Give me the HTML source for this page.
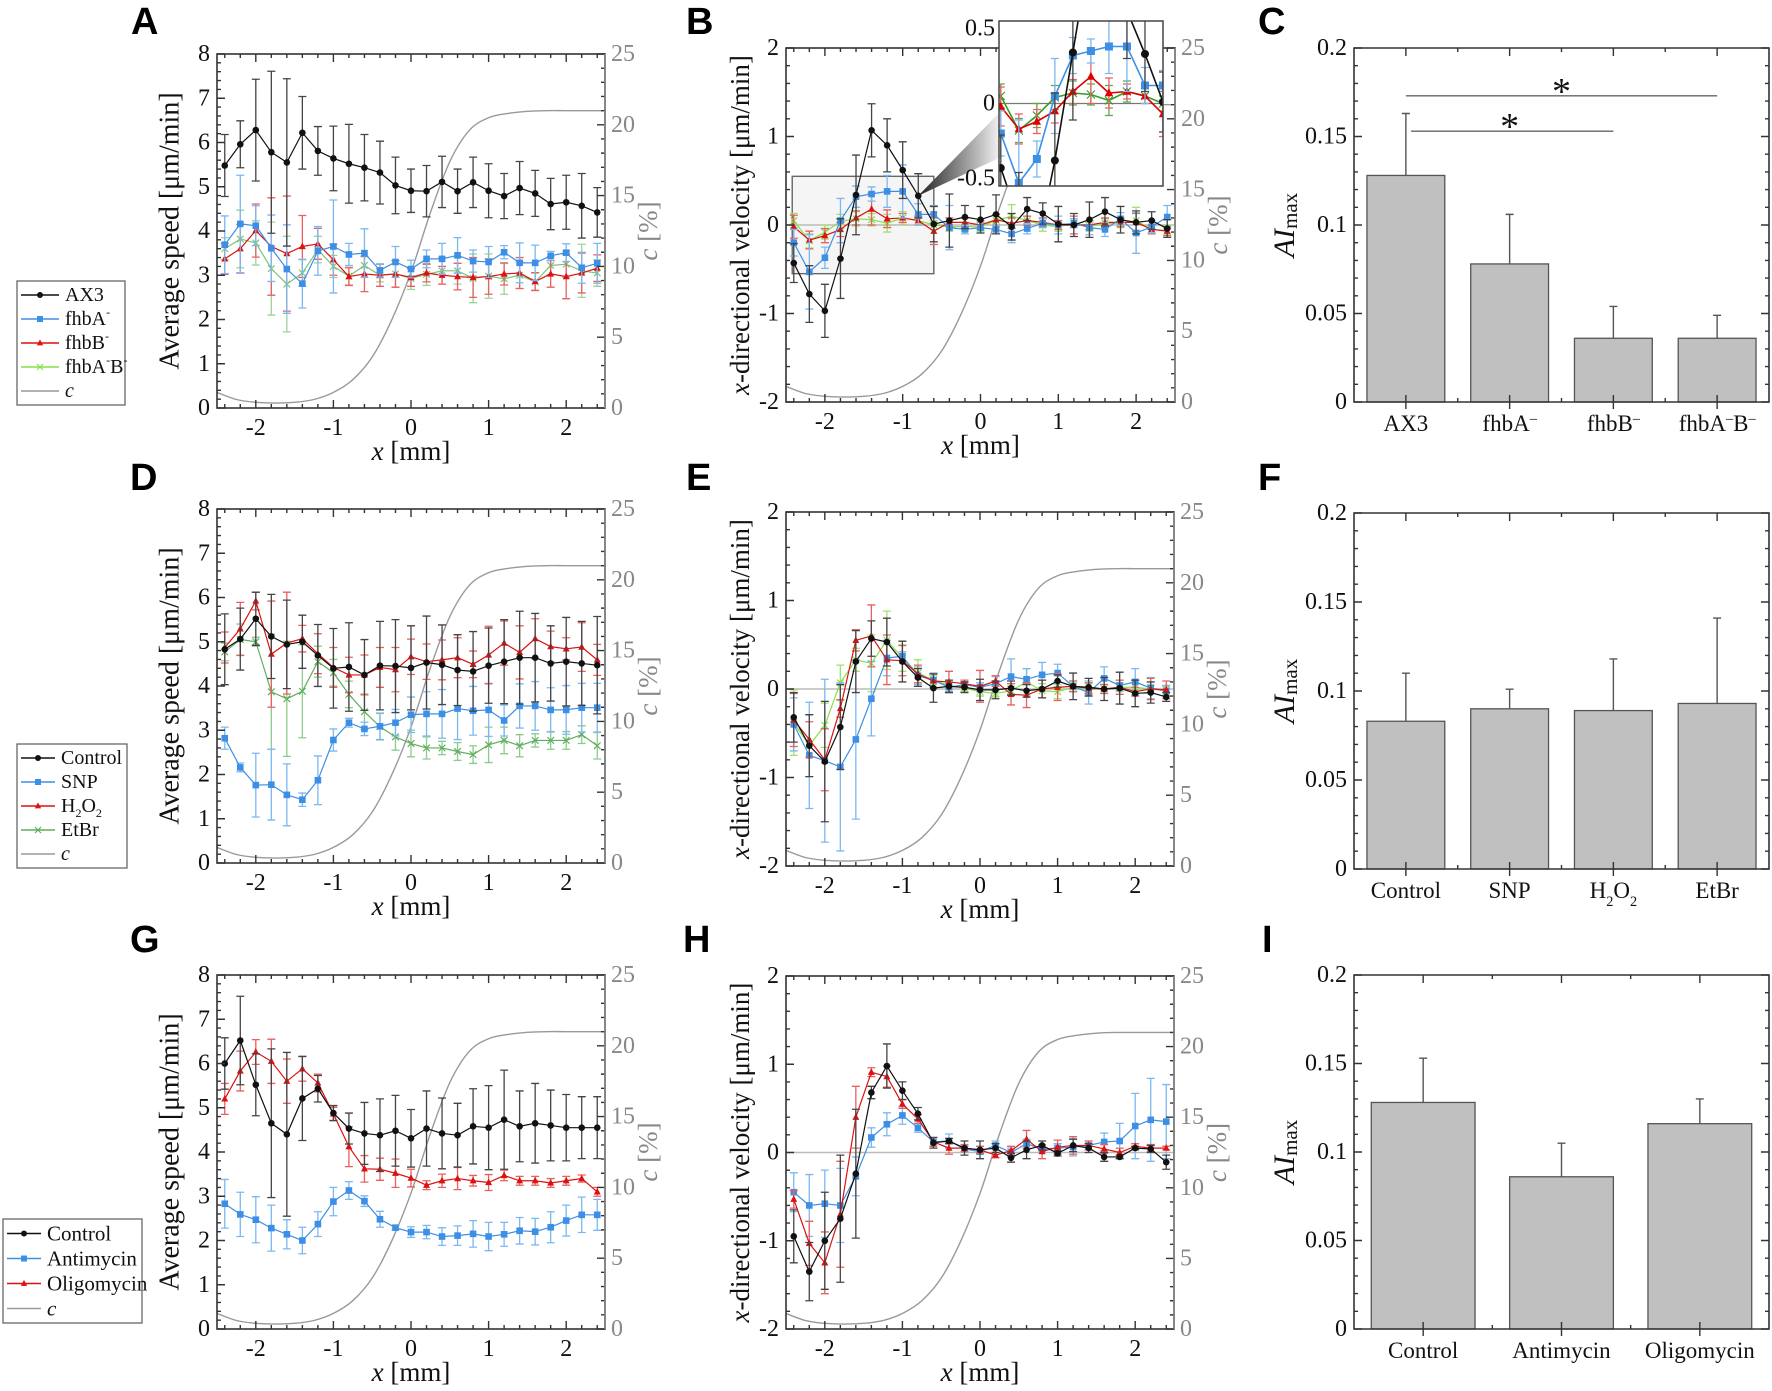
<!DOCTYPE html>
<html><head><meta charset="utf-8">
<style>
html,body{margin:0;padding:0;background:#fff;}
svg{display:block;}
svg text{font-family:"Liberation Serif","DejaVu Serif",serif;}
svg text.letter{font-family:"Liberation Sans",Arial,sans-serif;}
</style></head>
<body>
<svg id="fig" xmlns="http://www.w3.org/2000/svg" width="1772" height="1391" viewBox="0 0 1772 1391" font-family="Liberation Serif, serif">
<defs>
<linearGradient id="wedgeGrad" x1="0" y1="0" x2="1" y2="0">
<stop offset="0" stop-color="#222"/><stop offset="1" stop-color="#f0f0f0"/>
</linearGradient>
</defs>
</svg>
<script>
// ---------- shared x positions and c profile ----------
const xPos = [-2.4,-2.2,-2.0,-1.8,-1.6,-1.4,-1.2,-1.0,-0.8,-0.6,-0.4,-0.2,0,0.2,0.4,0.6,0.8,1.0,1.2,1.4,1.6,1.8,2.0,2.2,2.4];
const cX = [-2.5,-2.25,-2,-1.75,-1.5,-1.25,-1,-0.75,-0.5,-0.25,0,0.25,0.5,0.75,1,1.25,1.5,1.75,2,2.25,2.5];
const cVal = [1.1,0.6,0.4,0.35,0.4,0.6,1.1,2.0,3.6,6.2,9.6,13.8,17.4,19.6,20.5,20.8,20.95,21,21,21,21];

// ---------- Panel A ----------
const aAX3 = [5.48,5.96,6.28,5.78,5.55,6.22,5.81,5.64,5.52,5.43,5.32,5.03,4.91,4.90,5.11,4.90,5.10,4.91,4.79,4.97,4.85,4.61,4.65,4.57,4.42];
const aAX3Err = [0.7,0.53,1.15,1.83,1.89,0.82,0.55,0.73,0.89,0.75,0.71,0.64,0.49,0.58,0.58,0.5,0.57,0.61,0.51,0.6,0.52,0.58,0.61,0.73,0.56];
const aFhbA = [3.69,4.16,4.12,3.61,3.14,2.81,3.55,3.65,3.47,3.50,3.11,3.30,3.14,3.37,3.37,3.45,3.32,3.30,3.52,3.28,3.28,3.44,3.51,3.17,3.27];
const aFhbAErr = [0.65,1.1,0.45,0.75,1.0,0.55,0.55,1.05,0.25,0.55,0.15,0.35,0.2,0.2,0.35,0.4,0.25,0.35,0.15,0.45,0.4,0.1,0.2,0.35,0.45];
const aFhbB = [3.37,3.60,4.01,3.65,3.49,3.65,3.71,3.35,2.97,3.03,3.00,3.03,2.95,3.05,3.00,2.97,2.95,2.97,3.03,3.05,2.86,3.03,2.97,3.05,3.16];
const aFhbBErr = [0.35,0.55,0.6,1.1,1.3,0.7,0.35,0.35,0.2,0.4,0.25,0.3,0.2,0.2,0.2,0.3,0.45,0.4,0.25,0.35,0.2,0.3,0.5,0.45,0.3];
const aFhbAB = [3.6,3.82,3.73,3.15,2.8,3.05,3.58,3.2,2.98,3.22,3.0,3.03,2.93,3.02,3.1,3.1,2.93,2.98,2.92,3.0,2.85,3.22,3.25,3.1,3.05];
const aFhbABErr = [0.25,0.65,0.5,1.05,1.08,0.3,0.3,0.25,0.2,0.2,0.15,0.3,0.25,0.25,0.3,0.3,0.55,0.5,0.35,0.3,0.2,0.2,0.3,0.6,0.3];

// ---------- Panel B ----------
const bAX3 = [-0.43,-0.78,-0.97,-0.38,0.34,1.07,0.90,0.62,0.33,0.01,0.05,0.09,0.06,0.12,-0.02,0.18,0.13,0.01,0.0,0.06,0.15,0.06,0.03,0.05,-0.04];
const bAX3Err = [0.22,0.32,0.3,0.45,0.45,0.3,0.3,0.32,0.25,0.2,0.3,0.13,0.15,0.22,0.15,0.13,0.12,0.2,0.13,0.2,0.16,0.15,0.13,0.1,0.1];
const bFhbA = [-0.2,-0.53,-0.37,0.05,0.32,0.35,0.38,0.38,0.12,0.12,-0.03,-0.05,-0.03,-0.05,-0.1,-0.04,0.02,0.0,0.02,-0.03,-0.05,0.07,-0.09,-0.02,0.09];
const bFhbAErr = [0.15,0.42,0.12,0.25,0.12,0.08,0.18,0.3,0.12,0.1,0.25,0.05,0.06,0.05,0.1,0.06,0.05,0.1,0.05,0.08,0.08,0.07,0.23,0.07,0.13];
const bFhbB = [-0.02,-0.17,-0.12,-0.05,0.08,0.18,0.07,0.08,0.05,-0.07,0.03,0.03,0.0,0.06,0.02,0.05,0.03,0.0,0.0,0.0,0.03,0.03,0.03,-0.05,-0.07];
const bFhbBErr = [0.13,0.1,0.08,0.08,0.08,0.18,0.1,0.05,0.05,0.15,0.05,0.05,0.05,0.06,0.06,0.05,0.05,0.05,0.1,0.05,0.05,0.05,0.1,0.05,0.05];
const bFhbAB = [0.05,-0.18,-0.08,0.04,0.07,0.06,0.02,0.08,0.05,0.0,-0.02,-0.02,-0.02,0.05,0.1,0.05,0.0,-0.02,0.02,-0.02,0.02,0.02,0.05,-0.05,-0.06];
const bFhbABErr = [0.08,0.08,0.08,0.08,0.08,0.07,0.1,0.07,0.05,0.05,0.05,0.05,0.05,0.07,0.13,0.05,0.07,0.05,0.05,0.05,0.05,0.05,0.15,0.05,0.05];

// ---------- Panel C ----------
const cCats = ["AX3","fhbA-","fhbB-","fhbA-B-"];
const cBars = [0.128,0.078,0.036,0.036];
const cErrTop = [0.163,0.106,0.054,0.049];

// ---------- Panel D ----------
const dCtrl = [4.83,5.06,5.52,5.12,4.94,5.0,4.69,4.40,4.43,4.25,4.46,4.45,4.41,4.53,4.48,4.36,4.33,4.46,4.55,4.64,4.64,4.51,4.55,4.51,4.47];
const dCtrlErr = [0.8,0.7,0.6,0.95,1.0,0.6,0.7,0.9,1.0,0.8,1.0,1.05,0.95,1.05,0.9,0.8,0.9,0.85,0.95,1.05,1.0,0.85,1.0,0.95,1.1];
const dSNP = [2.82,2.16,1.76,1.77,1.54,1.43,1.87,2.78,3.17,3.03,3.09,3.17,3.35,3.37,3.37,3.49,3.44,3.46,3.22,3.55,3.55,3.46,3.46,3.51,3.51];
const dSNPErr = [0.25,0.1,0.72,0.8,0.7,0.15,0.55,0.25,0.1,0.15,0.3,0.3,0.4,0.5,0.55,0.7,0.55,0.6,0.35,0.5,0.55,0.5,0.55,0.55,0.55];
const dH2O2 = [4.87,5.29,5.92,4.72,4.97,5.07,4.73,4.42,4.25,4.25,4.42,4.37,4.66,4.55,4.59,4.64,4.49,4.70,4.97,4.76,5.07,4.89,4.84,4.88,4.59];
const dH2O2Err = [0.35,0.6,0.2,1.2,1.15,0.3,0.45,0.45,0.4,0.45,0.45,0.5,0.4,0.4,0.45,0.45,0.3,0.65,0.5,0.6,0.45,0.35,0.25,0.55,0.35];
const dEtBr = [4.77,5.05,5.0,3.87,3.71,3.88,4.55,4.3,3.81,3.42,3.08,2.85,2.7,2.6,2.6,2.52,2.45,2.67,2.77,2.65,2.77,2.77,2.77,2.9,2.65];
const dEtBrErr = [0.2,0.35,0.1,1.3,1.3,1.05,0.35,0.3,0.3,0.4,0.3,0.3,0.3,0.25,0.15,0.2,0.2,0.4,0.3,0.25,0.15,0.2,0.2,0.2,0.3];

// ---------- Panel E ----------
const eCtrl = [-0.32,-0.64,-0.82,-0.43,0.31,0.57,0.53,0.31,0.13,0.01,0.03,0.02,-0.01,-0.01,0.01,-0.02,0.0,0.09,0.03,0.02,0.0,0.01,-0.05,-0.04,-0.09];
const eCtrlErr = [0.28,0.35,0.68,0.48,0.35,0.2,0.27,0.23,0.1,0.16,0.07,0.06,0.12,0.1,0.08,0.07,0.1,0.07,0.15,0.1,0.13,0.18,0.15,0.12,0.05];
const eSNP = [-0.4,-0.75,-0.81,-0.88,-0.57,-0.11,0.35,0.37,0.15,0.1,0.02,0.05,0.02,0.06,0.14,0.11,0.16,0.18,0.03,-0.04,0.12,0.04,0.08,0.01,-0.02];
const eSNPErr = [0.3,0.6,0.92,0.95,0.9,0.42,0.2,0.05,0.1,0.08,0.05,0.03,0.05,0.08,0.2,0.12,0.14,0.1,0.06,0.13,0.13,0.06,0.15,0.12,0.06];
const eH2O2 = [-0.35,-0.57,-0.8,-0.22,0.55,0.6,0.33,0.32,0.17,0.09,0.08,0.06,0.03,0.09,-0.06,-0.07,0.0,0.02,0.03,0.01,0.0,0.02,-0.03,0.0,-0.01];
const eH2O2Err = [0.3,0.2,0.35,0.1,0.12,0.35,0.28,0.17,0.1,0.08,0.12,0.04,0.18,0.06,0.12,0.14,0.1,0.15,0.06,0.06,0.05,0.08,0.05,0.12,0.1];
const eEtBr = [-0.38,-0.64,-0.41,0.07,0.33,0.29,0.55,0.35,0.18,0.1,0.04,0.01,-0.03,-0.05,-0.02,0.08,-0.02,-0.03,0.02,0.0,0.0,0.02,0.02,0.0,-0.02];
const eEtBrErr = [0.37,0.35,0.25,0.2,0.13,0.32,0.33,0.15,0.15,0.05,0.05,0.04,0.05,0.04,0.05,0.15,0.08,0.08,0.05,0.06,0.05,0.05,0.05,0.05,0.05];

// ---------- Panel F ----------
const fCats = ["Control","SNP","H2O2","EtBr"];
const fBars = [0.083,0.090,0.089,0.093];
const fErrTop = [0.110,0.101,0.118,0.141];

// ---------- Panel G ----------
const gCtrl = [6.0,6.52,5.52,4.65,4.40,5.21,5.43,4.88,4.53,4.42,4.38,4.48,4.31,4.53,4.42,4.38,4.58,4.55,4.73,4.58,4.65,4.6,4.55,4.55,4.55];
const gCtrlErr = [0.58,1.0,0.7,1.68,1.85,0.95,0.3,0.17,0.35,0.7,0.82,0.8,0.65,0.85,0.8,0.72,0.85,0.95,1.12,0.8,0.9,0.8,0.75,0.7,0.7];
const gAnti = [2.83,2.59,2.47,2.28,2.14,2.0,2.37,2.88,3.13,2.89,2.48,2.29,2.19,2.19,2.09,2.11,2.15,2.09,2.14,2.22,2.2,2.3,2.45,2.58,2.58];
const gAntiErr = [0.55,0.5,0.52,0.52,0.33,0.3,0.28,0.32,0.2,0.12,0.18,0.05,0.12,0.15,0.2,0.22,0.3,0.32,0.27,0.3,0.3,0.35,0.35,0.4,0.35];
const gOligo = [5.2,5.83,6.26,6.05,5.6,5.88,5.56,4.86,4.12,3.62,3.61,3.52,3.41,3.25,3.35,3.4,3.35,3.31,3.47,3.35,3.35,3.3,3.35,3.4,3.1];
const gOligoErr = [0.35,0.45,0.28,0.5,0.5,0.28,0.2,0.15,0.45,0.3,0.25,0.32,0.2,0.1,0.15,0.25,0.12,0.18,0.12,0.1,0.1,0.1,0.1,0.08,0.1];

// ---------- Panel H ----------
const hCtrl = [-0.95,-1.35,-1.0,-0.75,-0.24,0.68,0.98,0.70,0.44,0.11,0.13,0.05,0.03,0.05,-0.06,0.03,0.08,-0.01,0.08,0.05,-0.05,-0.05,0.05,0.04,-0.11];
const hCtrlErr = [0.3,0.33,0.55,0.72,0.73,0.07,0.25,0.1,0.07,0.06,0.03,0.08,0.1,0.05,0.05,0.1,0.05,0.03,0.07,0.05,0.05,0.02,0.02,0.04,0.08];
const hAnti = [-0.45,-0.6,-0.58,-0.6,-0.27,0.17,0.32,0.42,0.28,0.12,0.13,0.04,0.01,0.08,0.0,0.1,0.04,0.05,0.06,0.08,0.12,0.13,0.3,0.37,0.35];
const hAntiErr = [0.22,0.35,0.38,0.42,0.22,0.11,0.13,0.1,0.05,0.05,0.08,0.03,0.03,0.05,0.05,0.05,0.04,0.05,0.1,0.05,0.1,0.2,0.37,0.47,0.42];
const hOligo = [-0.53,-1.03,-1.25,-0.7,0.4,0.91,0.86,0.55,0.38,0.12,0.05,0.05,0.03,-0.03,0.02,0.15,0.01,0.06,0.08,0.08,0.04,0.0,0.07,0.05,0.05];
const hOligoErr = [0.1,0.25,0.35,0.6,0.35,0.05,0.12,0.05,0.05,0.05,0.07,0.04,0.04,0.03,0.05,0.1,0.08,0.08,0.1,0.05,0.05,0.05,0.03,0.04,0.02];

// ---------- Panel I ----------
const iCats = ["Control","Antimycin","Oligomycin"];
const iBars = [0.128,0.086,0.116];
const iErrTop = [0.153,0.105,0.130];

// ================= drawing =================
const NS = "http://www.w3.org/2000/svg";
const svg = document.getElementById("fig");
function mk(tag, attrs, parent){
  const e = document.createElementNS(NS, tag);
  for (const k in attrs) e.setAttribute(k, attrs[k]);
  (parent || svg).appendChild(e);
  return e;
}
function lin(d0,d1,r0,r1){ return v => r0 + (v-d0)*(r1-r0)/(d1-d0); }
function fmt(v){ return (Math.round(v*1000)/1000).toString(); }

const AXC = "#333";

function labelSegs(t, name, size){
  let segs;
  if (name === "fhbA-") segs = [["fhbA",0],["\u2013",1]];
  else if (name === "fhbB-") segs = [["fhbB",0],["\u2013",1]];
  else if (name === "fhbA-B-") segs = [["fhbA",0],["\u2013",1],["B",0],["\u2013",1]];
  else if (name === "H2O2") segs = [["H",0],["2",-1],["O",0],["2",-1]];
  else segs = [[name,0]];
  for (const [s, k] of segs){
    const ts = mk("tspan", {}, t);
    ts.textContent = s;
    if (k === 1){ ts.setAttribute("font-size", size*0.62); ts.setAttribute("baseline-shift", "super"); }
    else if (k === -1){ ts.setAttribute("font-size", size*0.62); ts.setAttribute("baseline-shift", "sub"); }
  }
}

function drawLinePanel(opt){
  const g = mk("g", {});
  
  
  const {l,t,r,b} = opt.box;
  const xs = lin(-2.5, 2.5, l, r);
  const ys = lin(opt.yMin, opt.yMax, b, t);
  const cs = lin(0, 25, b, t);
  if (opt.zoomBox){
    const zb = opt.zoomBox;
    const rb = mk("rect", {x:xs(zb.x0), y:ys(zb.y1), width:xs(zb.x1)-xs(zb.x0), height:ys(zb.y0)-ys(zb.y1), fill:"#f5f5f5", stroke:"#666", "stroke-width":1.4}, g);
    
    
  }
  if (opt.zeroLine){
    const zl = mk("line", {x1:l, x2:r, y1:ys(0), y2:ys(0), stroke:"#bbb", "stroke-width":1.4}, g);
    
    
  }
  const cPath = mk("path", {d:smoothPath(cX.map(xs), cVal.map(cs)), fill:"none", stroke:"#999", "stroke-width":1.4}, g);
  
  
  for (const s of opt.series) drawSeries(g, s, xs, ys, 1.2, 3.3);
  const fr = mk("rect", {x:l, y:t, width:r-l, height:b-t, fill:"none", stroke:AXC, "stroke-width":1.6}, g);
  
  
  let d = "";
  const nY = Math.round((opt.yMax-opt.yMin)/opt.yMinor);
  for (let i=0;i<=nY;i++){
    const v = opt.yMin + i*opt.yMinor;
    const q = (v-opt.yMin)/opt.yMajor;
    const len = Math.abs(q-Math.round(q))<1e-6 ? 8 : 4;
    d += `M${l},${ys(v)}h${len}`;
  }
  for (let v=0; v<=25; v++){
    const len = v%5===0 ? 8 : 4;
    d += `M${r},${cs(v)}h${-len}`;
  }
  for (let i=-12;i<=12;i++){
    const v = i*0.2;
    const len = i%5===0 ? 8 : 4;
    d += `M${xs(v)},${b}v${-len}M${xs(v)},${t}v${len}`;
  }
  const tk = mk("path", {d, stroke:AXC, "stroke-width":1.4, fill:"none"}, g);
  
  
  const ra = mk("line", {x1:r, x2:r, y1:t, y2:b, stroke:"#888", "stroke-width":1.6}, g);
  
  
  const nMaj = Math.round((opt.yMax-opt.yMin)/opt.yMajor);
  for (let i=0;i<=nMaj;i++){
    const v = opt.yMin + i*opt.yMajor;
    const tx = mk("text", {x:l-7, y:ys(v), "text-anchor":"end", "dominant-baseline":"central", "font-size":24, fill:"#111"}, g);
    tx.textContent = fmt(v);
    
    
  }
  for (let v=0; v<=25; v+=5){
    const tx = mk("text", {x:r+6, y:cs(v), "text-anchor":"start", "dominant-baseline":"central", "font-size":24, fill:"#888"}, g);
    tx.textContent = v;
    
    
  }
  for (let v=-2; v<=2; v++){
    const tx = mk("text", {x:xs(v), y:b+20, "text-anchor":"middle", "dominant-baseline":"central", "font-size":24, fill:"#111"}, g);
    tx.textContent = v;
    
    
  }
  const xt = mk("text", {x:(l+r)/2, y:b+52, "text-anchor":"middle", "font-size":27, fill:"#111"}, g);
  
  
  const x1 = mk("tspan", {"font-style":"italic"}, xt); x1.textContent = "x";
  const x2 = mk("tspan", {}, xt); x2.textContent = " [mm]";
  const cy = (t+b)/2;
  const yt = mk("text", {x:opt.yTitleX, y:cy, "text-anchor":"middle", "dominant-baseline":"central", "font-size":opt.yTitleSize, fill:"#111", transform:`rotate(-90 ${opt.yTitleX} ${cy})`}, g);
  
  
  if (opt.velocity){
    const a = mk("tspan", {"font-style":"italic"}, yt); a.textContent = "x";
    const bb = mk("tspan", {}, yt); bb.textContent = "-directional velocity [\u03bcm/min]";
  } else {
    yt.textContent = "Average speed [\u03bcm/min]";
  }
  const ctx = r + 43;
  const ct = mk("text", {x:ctx, y:cy, "text-anchor":"middle", "dominant-baseline":"central", "font-size":27, fill:"#888", transform:`rotate(-90 ${ctx} ${cy})`}, g);
  
  
  const c1 = mk("tspan", {"font-style":"italic"}, ct); c1.textContent = "c";
  const c2 = mk("tspan", {}, ct); c2.textContent = " [%]";
  return {g, xs, ys};
}

function smoothPath(px, py){
  let d = `M${px[0]},${py[0]}`;
  for (let i=0;i<px.length-1;i++){
    const p0x = px[Math.max(0,i-1)], p0y = py[Math.max(0,i-1)];
    const p1x = px[i], p1y = py[i], p2x = px[i+1], p2y = py[i+1];
    const p3x = px[Math.min(px.length-1,i+2)], p3y = py[Math.min(px.length-1,i+2)];
    const c1x = p1x + (p2x-p0x)/6, c1y = p1y + (p2y-p0y)/6;
    const c2x = p2x - (p3x-p1x)/6, c2y = p2y - (p3y-p1y)/6;
    d += `C${c1x},${c1y} ${c2x},${c2y} ${p2x},${p2y}`;
  }
  return d;
}

function marker(g, type, x, y, color, sz){
  let m;
  if (type === "circle") m = mk("circle", {cx:x, cy:y, r:sz, fill:color}, g);
  else if (type === "square") m = mk("rect", {x:x-sz, y:y-sz, width:2*sz, height:2*sz, fill:color}, g);
  else if (type === "triangle") m = mk("path", {d:`M${x},${y-sz*1.2}L${x+sz*1.05},${y+sz*0.8}L${x-sz*1.05},${y+sz*0.8}Z`, fill:color}, g);
  else m = mk("path", {d:`M${x-sz},${y-sz}L${x+sz},${y+sz}M${x-sz},${y+sz}L${x+sz},${y-sz}`, stroke:color, "stroke-width":1.2, fill:"none"}, g);
  return m;
}

function drawSeries(g, s, xs, ys, lw, msz){
  const sg = mk("g", {}, g);
  
  
  if (s.err){
    let d = "";
    for (let i=0;i<s.vals.length;i++){
      const x = xs(xPos[i]), y0 = ys(s.vals[i]-s.err[i]), y1 = ys(s.vals[i]+s.err[i]);
      d += `M${x},${y0}V${y1}M${x-4},${y0}h8M${x-4},${y1}h8`;
    }
    const ep = mk("path", {d, stroke:s.errColor, "stroke-width":1.3, fill:"none"}, sg);
    
    
  }
  const pts = s.vals.map((v,i)=>`${xs(xPos[i])},${ys(v)}`).join(" ");
  const pl = mk("polyline", {points:pts, fill:"none", stroke:s.color, "stroke-width":lw}, sg);
  
  
  for (let i=0;i<s.vals.length;i++){
    const m = marker(sg, s.marker, xs(xPos[i]), ys(s.vals[i]), s.color, msz);
    
    
  }
}

function drawBarPanel(opt){
  const g = mk("g", {});
  
  
  const {l,t,r,b} = opt.box;
  const n = opt.cats.length;
  const xs = lin(0.5, n+0.5, l, r);
  const ys = lin(0, 0.2, b, t);
  const bw = (xs(1)-xs(0))*0.75;
  for (let i=0;i<n;i++){
    const cx = xs(i+1);
    const e = mk("path", {d:`M${cx},${ys(opt.vals[i])}V${ys(opt.errTop[i])}M${cx-4},${ys(opt.errTop[i])}h8`, stroke:"#555", "stroke-width":1.4, fill:"none"}, g);
    
    
    const rc = mk("rect", {x:cx-bw/2, y:ys(opt.vals[i]), width:bw, height:b-ys(opt.vals[i]), fill:"#c0c0c0", stroke:"#555", "stroke-width":1.3}, g);
    
    
    const tx = mk("text", {x:cx, y:b+29, "text-anchor":"middle", "font-size":23, fill:"#111"}, g);
    labelSegs(tx, opt.cats[i], 23);
    
    
  }
  const fr = mk("path", {d:`M${l},${t}H${r}V${b}H${l}Z`, fill:"none", stroke:AXC, "stroke-width":1.6}, g);
  
  
  let d = "";
  for (let i=0;i<=20;i++){
    const v = i*0.01, len = i%5===0 ? 8 : 4;
    d += `M${l},${ys(v)}h${len}M${r},${ys(v)}h${-len}`;
  }
  for (let i=1;i<=n;i++){
    d += `M${xs(i)},${b+7}v-14M${xs(i)},${t}v8`;
  }
  for (let i=1;i<n;i++){
    d += `M${xs(i+0.5)},${b}v-4M${xs(i+0.5)},${t}v4`;
  }
  const tk = mk("path", {d, stroke:AXC, "stroke-width":1.4, fill:"none"}, g);
  
  
  for (let i=0;i<=4;i++){
    const v = i*0.05;
    const tx = mk("text", {x:l-7, y:ys(v), "text-anchor":"end", "dominant-baseline":"central", "font-size":24, fill:"#111"}, g);
    tx.textContent = fmt(v);
    
    
  }
  const cy = (t+b)/2, tx0 = l - 70;
  const yt = mk("text", {x:tx0, y:cy, "text-anchor":"middle", "dominant-baseline":"central", "font-size":30, fill:"#111", transform:`rotate(-90 ${tx0} ${cy})`}, g);
  
  
  const a1 = mk("tspan", {"font-style":"italic"}, yt); a1.textContent = "AI";
  const a2 = mk("tspan", {"font-size":21, "baseline-shift":"-6"}, yt); a2.textContent = "max";
  return {g, xs, ys};
}

function legend(x, y, w, h, entries, fs){
  const g = mk("g", {});
  
  
  const bx = mk("rect", {x, y, width:w, height:h, fill:"#fff", stroke:"#666", "stroke-width":1.3}, g);
  
  
  const step = (h-4)/entries.length;
  entries.forEach((e, i) => {
    const eg = mk("g", {}, g);
    
    
    const yy = y + 2 + step*(i+0.5);
    mk("line", {x1:x+4, x2:x+e.lineLen, y1:yy, y2:yy, stroke:e.color, "stroke-width":e.marker?1.4:1.5}, eg);
    if (e.marker) marker(eg, e.marker, x+4+(e.lineLen-4)/2, yy, e.color, 3);
    const tx = mk("text", {x:x+e.lineLen+6, y:yy, "dominant-baseline":"central", "font-size":fs, fill:"#111"}, eg);
    if (e.italic) tx.setAttribute("font-style", "italic");
    if (e.segs){
      for (const [s,k] of e.segs){
        const ts = mk("tspan", {}, tx);
        ts.textContent = s;
        if (k===1){ ts.setAttribute("font-size", fs*0.6); ts.setAttribute("baseline-shift", "super"); }
        if (k===-1){ ts.setAttribute("font-size", fs*0.6); ts.setAttribute("baseline-shift", "sub"); }
      }
    } else tx.textContent = e.label;
  });
}

function panelLetter(ch, x, y){
  const t = mk("text", {x, y, class:"letter", "font-family":"Liberation Sans, Arial, sans-serif", "font-weight":"bold", "font-size":38, fill:"#000"});
  t.textContent = ch;
  
  
}

const BLK = "#111", BLU = "#3d8fe6", RED = "#dd1111";
const BLKe = "#444", BLUe = "#7bb8f3", REDe = "#e86060";

drawLinePanel({name:"panel-a-average-speed", box:{l:217,t:54,r:605,b:408}, yMin:0, yMax:8, yMajor:1, yMinor:0.2, yTitleX:170, yTitleSize:28,
  series:[
    {name:"series-fhbab", vals:aFhbAB, err:aFhbABErr, color:"#7cc47c", errColor:"#9bd49b", marker:"cross"},
    {name:"series-fhbb", vals:aFhbB, err:aFhbBErr, color:RED, errColor:REDe, marker:"triangle"},
    {name:"series-fhba", vals:aFhbA, err:aFhbAErr, color:BLU, errColor:BLUe, marker:"square"},
    {name:"series-ax3", vals:aAX3, err:aAX3Err, color:BLK, errColor:BLKe, marker:"circle"}
  ]});
const pb = drawLinePanel({name:"panel-b-x-velocity", box:{l:786,t:48,r:1175,b:402}, yMin:-2, yMax:2, yMajor:1, yMinor:0.2, yTitleX:740, yTitleSize:27, velocity:true, zeroLine:true,
  zoomBox:{x0:-2.42, x1:-0.6, y0:-0.55, y1:0.55},
  series:[
    {name:"series-fhbab", vals:bFhbAB, err:bFhbABErr, color:"#86e04a", errColor:"#9ee36a", marker:"cross"},
    {name:"series-fhbb", vals:bFhbB, err:bFhbBErr, color:RED, errColor:REDe, marker:"triangle"},
    {name:"series-fhba", vals:bFhbA, err:bFhbAErr, color:BLU, errColor:BLUe, marker:"square"},
    {name:"series-ax3", vals:bAX3, err:bAX3Err, color:BLK, errColor:BLKe, marker:"circle"}
  ]});
(function(){
  const wx = pb.xs(-0.8), wy = pb.ys(0.33);
  const w = mk("path", {d:`M${wx},${wy}L999,113L999,158Z`, fill:"url(#wedgeGrad)"});
  
  
  const ig = mk("g", {});
  
  
  const L=999, R=1163, T=21, B=186;
  const bg = mk("rect", {x:L, y:T, width:R-L, height:B-T, fill:"#fff"}, ig);
  
  
  const clip = mk("clipPath", {id:"insetClip"}, svg.querySelector("defs"));
  mk("rect", {x:L, y:T, width:R-L, height:B-T}, clip);
  const xs = lin(-2.42, -0.6, L, R), ys = lin(-0.55, 0.55, B, T);
  const cg = mk("g", {"clip-path":"url(#insetClip)"}, ig);
  const zl = mk("line", {x1:L, x2:R, y1:ys(0), y2:ys(0), stroke:"#777", "stroke-width":1.2}, cg);
  
  
  const ser = [
    {name:"inset-fhbab", vals:bFhbAB, err:bFhbABErr, color:"#3a9a2a", errColor:"#5aaa4a", marker:"cross"},
    {name:"inset-fhbb", vals:bFhbB, err:bFhbBErr, color:"#e00000", errColor:"#e86060", marker:"triangle"},
    {name:"inset-fhba", vals:bFhbA, err:bFhbAErr, color:BLU, errColor:BLUe, marker:"square"},
    {name:"inset-ax3", vals:bAX3, err:bAX3Err, color:BLK, errColor:BLKe, marker:"circle"}
  ];
  for (const s of ser) drawSeries(cg, s, xs, ys, 1.6, 4);
  const fr = mk("rect", {x:L, y:T, width:R-L, height:B-T, fill:"none", stroke:"#444", "stroke-width":1.5}, ig);
  
  
  for (const v of [0.5, 0, -0.5]){
    const tx = mk("text", {x:L-4, y:ys(v), "text-anchor":"end", "dominant-baseline":"central", "font-size":24, fill:"#111"}, ig);
    tx.textContent = fmt(v);
    
    
  }
})();
const pc = drawBarPanel({name:"panel-c-ai-max", box:{l:1354,t:48,r:1769,b:402}, cats:cCats, vals:cBars, errTop:cErrTop});
(function(){
  const g = mk("g", {});
  
  
  const l1 = mk("line", {x1:pc.xs(1), x2:pc.xs(4), y1:pc.ys(0.173), y2:pc.ys(0.173), stroke:"#666", "stroke-width":1.4}, g);
  
  
  const l2 = mk("line", {x1:pc.xs(1.05), x2:pc.xs(3), y1:pc.ys(0.153), y2:pc.ys(0.153), stroke:"#666", "stroke-width":1.4}, g);
  
  
  const s1 = mk("text", {x:pc.xs(2.5), y:pc.ys(0.173)+8, "text-anchor":"middle", "font-size":38, fill:"#111"}, g);
  s1.textContent = "*";
  
  
  const s2 = mk("text", {x:pc.xs(2), y:pc.ys(0.153)+8, "text-anchor":"middle", "font-size":38, fill:"#111"}, g);
  s2.textContent = "*";
  
  
})();
drawLinePanel({name:"panel-d-average-speed", box:{l:217,t:509,r:605,b:863}, yMin:0, yMax:8, yMajor:1, yMinor:0.2, yTitleX:170, yTitleSize:28,
  series:[
    {name:"series-etbr", vals:dEtBr, err:dEtBrErr, color:"#5fae5f", errColor:"#8ccb8c", marker:"cross"},
    {name:"series-snp", vals:dSNP, err:dSNPErr, color:BLU, errColor:BLUe, marker:"square"},
    {name:"series-h2o2", vals:dH2O2, err:dH2O2Err, color:RED, errColor:REDe, marker:"triangle"},
    {name:"series-control", vals:dCtrl, err:dCtrlErr, color:BLK, errColor:BLKe, marker:"circle"}
  ]});
drawLinePanel({name:"panel-e-x-velocity", box:{l:786,t:512,r:1174,b:866}, yMin:-2, yMax:2, yMajor:1, yMinor:0.2, yTitleX:740, yTitleSize:27, velocity:true, zeroLine:true,
  series:[
    {name:"series-etbr", vals:eEtBr, err:eEtBrErr, color:"#86e04a", errColor:"#9ee36a", marker:"cross"},
    {name:"series-snp", vals:eSNP, err:eSNPErr, color:BLU, errColor:BLUe, marker:"square"},
    {name:"series-h2o2", vals:eH2O2, err:eH2O2Err, color:RED, errColor:REDe, marker:"triangle"},
    {name:"series-control", vals:eCtrl, err:eCtrlErr, color:BLK, errColor:BLKe, marker:"circle"}
  ]});
drawBarPanel({name:"panel-f-ai-max", box:{l:1354,t:513,r:1769,b:869}, cats:fCats, vals:fBars, errTop:fErrTop});
drawLinePanel({name:"panel-g-average-speed", box:{l:217,t:975,r:605,b:1329}, yMin:0, yMax:8, yMajor:1, yMinor:0.2, yTitleX:170, yTitleSize:28,
  series:[
    {name:"series-antimycin", vals:gAnti, err:gAntiErr, color:BLU, errColor:BLUe, marker:"square"},
    {name:"series-oligomycin", vals:gOligo, err:gOligoErr, color:RED, errColor:REDe, marker:"triangle"},
    {name:"series-control", vals:gCtrl, err:gCtrlErr, color:BLK, errColor:BLKe, marker:"circle"}
  ]});
drawLinePanel({name:"panel-h-x-velocity", box:{l:786,t:976,r:1174,b:1329}, yMin:-2, yMax:2, yMajor:1, yMinor:0.2, yTitleX:740, yTitleSize:27, velocity:true, zeroLine:true,
  series:[
    {name:"series-antimycin", vals:hAnti, err:hAntiErr, color:BLU, errColor:BLUe, marker:"square"},
    {name:"series-oligomycin", vals:hOligo, err:hOligoErr, color:RED, errColor:REDe, marker:"triangle"},
    {name:"series-control", vals:hCtrl, err:hCtrlErr, color:BLK, errColor:BLKe, marker:"circle"}
  ]});
drawBarPanel({name:"panel-i-ai-max", box:{l:1354,t:975,r:1769,b:1329}, cats:iCats, vals:iBars, errTop:iErrTop});

legend(17, 281, 108, 124, [
  {label:"AX3", color:BLK, marker:"circle", lineLen:42},
  {segs:[["fhbA",0],["-",1]], color:BLU, marker:"square", lineLen:42},
  {segs:[["fhbB",0],["-",1]], color:RED, marker:"triangle", lineLen:42},
  {segs:[["fhbA",0],["-",1],["B",0],["-",1]], color:"#86e04a", marker:"cross", lineLen:42},
  {label:"c", italic:true, color:"#999", lineLen:42}
], 20);
legend(17, 744, 110, 124, [
  {label:"Control", color:BLK, marker:"circle", lineLen:38},
  {label:"SNP", color:BLU, marker:"square", lineLen:38},
  {segs:[["H",0],["2",-1],["O",0],["2",-1]], color:RED, marker:"triangle", lineLen:38},
  {label:"EtBr", color:"#5fae5f", marker:"cross", lineLen:38},
  {label:"c", italic:true, color:"#999", lineLen:38}
], 20);
legend(3, 1219, 139, 104, [
  {label:"Control", color:BLK, marker:"circle", lineLen:38},
  {label:"Antimycin", color:BLU, marker:"square", lineLen:38},
  {label:"Oligomycin", color:RED, marker:"triangle", lineLen:38},
  {label:"c", italic:true, color:"#999", lineLen:38}
], 21);

panelLetter("A", 131, 34);
panelLetter("B", 686, 34);
panelLetter("C", 1258, 34);
panelLetter("D", 130, 490);
panelLetter("E", 686, 490);
panelLetter("F", 1258, 490);
panelLetter("G", 130, 952);
panelLetter("H", 683, 952);
panelLetter("I", 1262, 952);
</script>
</body></html>
